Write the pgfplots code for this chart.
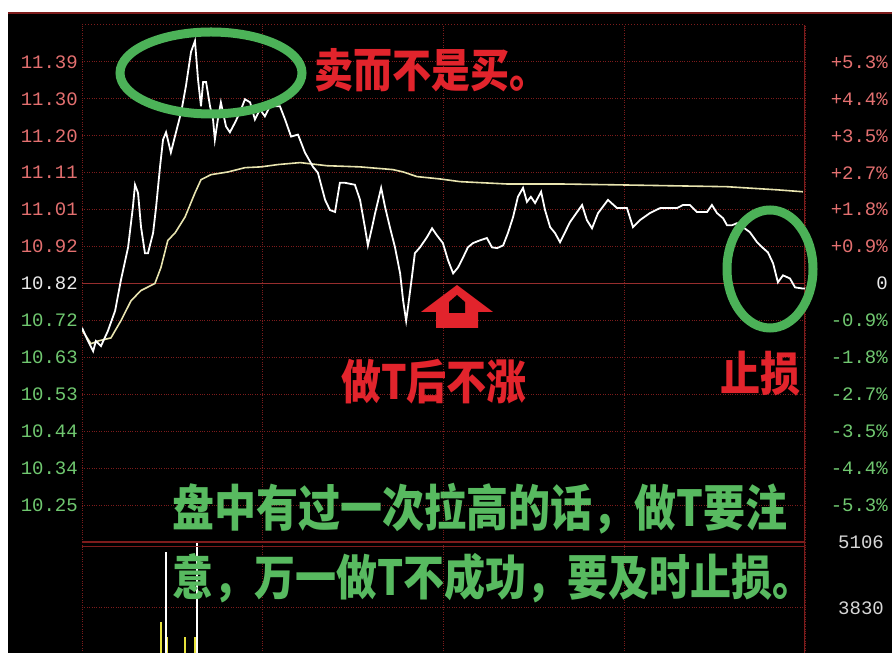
\documentclass[border=0pt]{standalone}
\usepackage{fontspec}
\usepackage{pgfplots}
\pgfplotsset{compat=1.18}
\newfontfamily\cjk{Noto Sans CJK SC}
\newfontfamily\mono{Liberation Mono}
\definecolor{gridred}{RGB}{125,28,28}
\definecolor{midred}{RGB}{150,45,45}
\definecolor{upred}{RGB}{228,112,112}
\definecolor{dngreen}{RGB}{112,200,112}
\definecolor{zrwhite}{RGB}{235,235,235}
\definecolor{volgray}{RGB}{215,215,215}
\definecolor{avgline}{RGB}{232,228,175}
\definecolor{barYellow}{RGB}{230,225,60}
\definecolor{annRed}{RGB}{226,36,44}
\definecolor{annGreen}{RGB}{88,186,96}
\definecolor{ellGreen}{RGB}{76,178,88}
\newcommand\up[1]{\mbox{\color{upred}\mono\fontsize{19}{19}\selectfont #1}}
\newcommand\dn[1]{\mbox{\color{dngreen}\mono\fontsize{19}{19}\selectfont #1}}
\newcommand\zr[1]{\mbox{\color{zrwhite}\mono\fontsize{19}{19}\selectfont #1}}
\newcommand\vl[1]{\mbox{\color{volgray}\mono\fontsize{19}{19}\selectfont #1}}
% #1 anchor, #2 position, #3 colour, #4 size, #5 text
\newcommand\cjktext[5]{%
  \node[text=#3, inner sep=0pt, anchor=#1] at #2 {\scalebox{1}[1.18]{\cjk\bfseries\fontsize{#4}{#4}\selectfont #5}};}

\pgfplotstableread{
m p
0 10.706
2.0 10.672
3.7 10.646
4.6 10.672
6.3 10.659
8.6 10.698
11.0 10.750
12.9 10.828
15.3 10.913
16.9 11.017
17.6 11.074
18.6 11.053
19.6 10.965
20.9 10.898
21.9 10.898
23.6 10.950
24.6 11.017
25.9 11.120
26.9 11.190
27.9 11.209
29.5 11.157
31.2 11.209
32.9 11.260
34.5 11.328
36.2 11.416
37.5 11.444
38.5 11.346
39.5 11.276
40.2 11.338
41.2 11.338
42.5 11.276
43.5 11.242
44.1 11.190
45.1 11.242
46.1 11.286
47.8 11.224
49.1 11.209
50.8 11.234
52.4 11.260
54.1 11.294
55.8 11.286
57.4 11.242
59.1 11.268
60.7 11.250
62.4 11.276
65.7 11.276
67.4 11.242
69.4 11.198
71.7 11.203
74.0 11.157
76.7 11.120
78.3 11.105
80.7 11.035
82.3 11.009
84.0 11.004
85.6 11.079
87.3 11.079
90.6 11.074
92.3 11.035
93.9 10.965
94.9 10.918
96.3 10.965
97.3 11.001
99.3 11.066
100.6 11.017
102.2 10.965
103.9 10.913
105.6 10.846
106.6 10.776
107.6 10.724
108.2 10.758
109.5 10.836
110.5 10.898
112.2 10.913
114.5 10.939
116.2 10.962
117.8 10.944
119.8 10.924
121.5 10.880
123.2 10.846
124.8 10.861
126.5 10.887
128.1 10.913
129.8 10.924
132.1 10.931
134.4 10.937
136.1 10.913
137.8 10.911
139.8 10.918
141.4 10.950
143.1 10.991
144.7 11.043
146.4 11.066
147.7 11.030
149.0 11.043
150.4 11.027
152.4 11.056
153.7 11.009
155.4 10.965
157.0 10.950
158.7 10.926
162.0 10.978
166.0 11.022
167.6 10.983
169.3 10.962
171.3 11.001
174.6 11.035
177.6 11.014
180.9 11.014
182.9 10.965
185.2 10.983
188.5 11.001
191.9 11.014
197.5 11.014
199.5 11.022
201.8 11.022
204.1 11.004
207.5 11.004
209.1 11.022
210.8 11.001
212.8 10.988
214.1 10.970
215.8 10.970
217.4 10.975
219.4 10.965
221.7 10.952
224.1 10.926
226.1 10.911
227.7 10.900
229.4 10.872
231.0 10.823
232.7 10.841
235.0 10.833
236.7 10.810
239.3 10.807
240 10.807
}\pricetable

\pgfplotstableread{
m a
0 10.700
3.0 10.665
5.3 10.672
9.6 10.680
12.9 10.724
16.3 10.776
19.6 10.802
24.2 10.820
26.2 10.861
28.5 10.931
30.9 10.950
34.2 10.991
37.5 11.053
39.5 11.087
42.8 11.100
48.5 11.107
54.1 11.118
59.4 11.120
65.1 11.126
72.4 11.131
81.3 11.123
92.3 11.120
103.2 11.113
106.6 11.107
111.2 11.095
118.8 11.089
125.5 11.082
141.1 11.076
158.7 11.076
175.9 11.074
214.1 11.069
230.7 11.061
239.3 11.056
}\avgtable

\begin{document}
\begin{tikzpicture}
% background
\fill[white] (0pt,0pt) rectangle (892pt,653pt);
\fill[black] (8pt,0pt) rectangle (892pt,641pt);
\draw[gridred, line width=2pt] (8pt,640pt) -- (892pt,640pt);

% volume panel
\begin{axis}[
  at={(82pt,0pt)}, anchor=south west,
  width=723pt, height=111pt, scale only axis,
  xmin=0, xmax=240, ymin=2960, ymax=5106,
  axis line style={draw=none}, major tick length=0pt,
  xtick={0,60,120,180,240}, xticklabels={},
  ytick={3830,5106}, yticklabels={\vl{3830},\vl{5106}},
  yticklabel pos=right,
  yticklabel style={anchor=east, inner sep=0pt, xshift=79pt},
  xmajorgrids, ymajorgrids,
  grid style={dotted, gridred, line width=1pt},
  clip=true,
]
\addplot[ycomb, barYellow, line width=1.6pt, mark=none] coordinates {(26.2,3559) (28.3,3269) (34.2,3269) (37.5,3269)};
\addplot[ycomb, white, line width=1.6pt, mark=none] coordinates {(27.9,4913) (38.2,5150)};
\draw[gridred, line width=1.3pt] (rel axis cs:0,1) -- (rel axis cs:1,1);
\draw[gridred, line width=1pt] (rel axis cs:0,0.955) -- (rel axis cs:1,0.955);
\draw[gridred, line width=1.3pt] (rel axis cs:1,0) -- (rel axis cs:1,1);
\end{axis}

% main price panel
\begin{axis}[
  at={(82pt,111pt)}, anchor=south west,
  width=723pt, height=517pt, scale only axis,
  xmin=0, xmax=240, ymin=10.155, ymax=11.485,
  axis line style={draw=none}, major tick length=0pt,
  xtick={0,60,120,180,240}, xticklabels={},
  ytick={10.25,10.345,10.44,10.535,10.63,10.725,10.82,10.915,11.01,11.105,11.2,11.295,11.39},
  yticklabels={\dn{10.25},\dn{10.34},\dn{10.44},\dn{10.53},\dn{10.63},\dn{10.72},\zr{10.82},\up{10.92},\up{11.01},\up{11.11},\up{11.20},\up{11.30},\up{11.39}},
  yticklabel style={anchor=east, inner sep=0pt, xshift=-4pt},
  xmajorgrids, ymajorgrids,
  grid style={dotted, gridred, line width=1pt},
  clip=true,
]
\draw[gridred, dotted, line width=1pt] (rel axis cs:0,1) -- (rel axis cs:1,1);
\draw[gridred, line width=1.3pt] (rel axis cs:1,0) -- (rel axis cs:1,1);
\addplot[midred, line width=1.3pt, mark=none] coordinates {(0,10.82) (240,10.82)};
\addplot[avgline, line width=1.6pt, mark=none] table[x=m, y=a] {\avgtable};
\addplot[white, line width=1.8pt, mark=none] table[x=m, y=p] {\pricetable};
\end{axis}

% right percent labels
\begin{axis}[
  at={(82pt,111pt)}, anchor=south west,
  width=723pt, height=517pt, scale only axis,
  xmin=0, xmax=240, ymin=10.155, ymax=11.485,
  axis line style={draw=none}, major tick length=0pt,
  xtick=\empty,
  ytick={10.25,10.345,10.44,10.535,10.63,10.725,10.82,10.915,11.01,11.105,11.2,11.295,11.39},
  yticklabels={\dn{-5.3\%},\dn{-4.4\%},\dn{-3.5\%},\dn{-2.7\%},\dn{-1.8\%},\dn{-0.9\%},\zr{0},\up{+0.9\%},\up{+1.8\%},\up{+2.7\%},\up{+3.5\%},\up{+4.4\%},\up{+5.3\%}},
  yticklabel pos=right,
  yticklabel style={anchor=east, inner sep=0pt, xshift=83pt},
]
\addplot[draw=none, mark=none] coordinates {(0,10.82) (240,10.82)};
\end{axis}

% annotations
\draw[ellGreen, line width=9pt] (211pt,580pt) ellipse [x radius=91pt, y radius=41pt];
\draw[ellGreen, line width=9pt] (770pt,384pt) ellipse [x radius=43pt, y radius=59pt];

\cjktext{center}{(431pt,583pt)}{annRed}{39}{卖而不是买。}
\cjktext{center}{(434pt,271pt)}{annRed}{40}{做T后不涨}
\cjktext{center}{(760pt,279pt)}{annRed}{40}{止损}

\cjktext{west}{(172pt,144pt)}{annGreen}{42}{盘中有过一次拉高的话，做T要注}
\cjktext{west}{(172pt,75pt)}{annGreen}{41}{意，万一做T不成功，要及时止损。}

% up arrow (house shape)
\fill[annRed] (457pt,368pt) -- (493pt,341pt) -- (478pt,341pt) -- (478pt,325pt) -- (436pt,325pt) -- (436pt,341pt) -- (421pt,341pt) -- cycle;
\fill[black] (449pt,340pt) -- (449pt,351pt) -- (457pt,358pt) -- (465pt,351pt) -- (465pt,340pt) -- cycle;

\pgfresetboundingbox
\path[use as bounding box] (0pt,0pt) rectangle (892pt,653pt);
\end{tikzpicture}
\end{document}
